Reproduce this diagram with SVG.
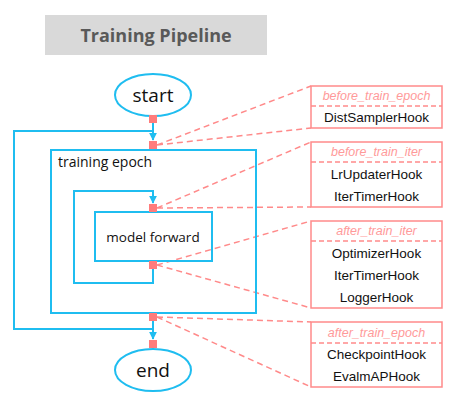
<svg xmlns="http://www.w3.org/2000/svg" width="465" height="415" viewBox="0 0 465 415">
<defs>
<style>
.blue{fill:none;stroke:#1fbdf0;stroke-width:2}
.sq{fill:#ff7c7c}
.hookbox{fill:#fff;stroke:#ff8a8a;stroke-width:1.5}
.sep{stroke:#ff8a8a;stroke-width:1.5;stroke-dasharray:5,3}
.dash{stroke:#ff8a8a;stroke-width:1.5;stroke-dasharray:6,4;fill:none}
.hdr{font-family:"Liberation Sans",Arial,sans-serif;font-style:italic;font-size:12.5px;fill:#ff9a9a;text-anchor:middle}
.hook{font-family:"Liberation Sans",Arial,sans-serif;font-size:13.5px;fill:#111;text-anchor:middle}
.lbl{font-family:"Open Sans","Liberation Sans",sans-serif;fill:#111}
</style>
<marker id="arr" viewBox="0 0 10 10" refX="9" refY="5" markerWidth="4" markerHeight="4" orient="auto"><path d="M0,0 L10,5 L0,10 z" fill="#1fbdf0"/></marker>
</defs>
<g id="title">
<rect x="45" y="15" width="222" height="40" fill="#d9d9d9"/>
<text x="156" y="42" font-family="Open Sans,Liberation Sans,sans-serif" font-weight="bold" font-size="18" fill="#595959" text-anchor="middle">Training Pipeline</text>
</g>
<g id="connectors">
<polyline class="blue" points="153,321 153,329 14,329 14,131 153,131 153,140" marker-end="url(#arr)"/>
<line class="blue" x1="153" y1="321" x2="153" y2="339" marker-end="url(#arr)"/>
<polyline class="blue" points="153,268 153,283 74,283 74,191 153,191 153,203" marker-end="url(#arr)"/>
<line class="blue" x1="153" y1="116" x2="153" y2="131"/>
<path class="dash" d="M157,145 L311,86 M157,145 L311,128"/>
<path class="dash" d="M157,208 L311,142 M157,208 L311,207"/>
<path class="dash" d="M157,265 L311,221 M157,265 L311,308"/>
<path class="dash" d="M157,317 L311,322 M157,317 L311,387"/>
</g>
<g id="start">
<ellipse class="blue" cx="153" cy="95" rx="38" ry="21" fill="#fff"/>
<text class="lbl" x="153" y="102" font-size="19" text-anchor="middle">start</text>
</g>
<g id="training-epoch">
<rect class="blue" x="51" y="150" width="205" height="163"/>
<text class="lbl" x="58" y="167" font-size="14">training epoch</text>
</g>
<g id="model-forward">
<rect class="blue" x="95" y="212" width="117" height="49" fill="#fff"/>
<text class="lbl" x="153" y="242" font-size="13.5" text-anchor="middle">model forward</text>
</g>
<g id="end">
<ellipse class="blue" cx="153" cy="370" rx="38" ry="21" fill="#fff"/>
<text class="lbl" x="153" y="377" font-size="19" text-anchor="middle">end</text>
</g>
<g id="hook-points">
<rect class="sq" x="149" y="115" width="8" height="8"/>
<rect class="sq" x="149" y="141" width="8" height="8"/>
<rect class="sq" x="149" y="204" width="8" height="8"/>
<rect class="sq" x="149" y="261" width="8" height="8"/>
<rect class="sq" x="149" y="313" width="8" height="8"/>
<rect class="sq" x="149" y="340" width="8" height="8"/>
</g>
<g id="before-train-epoch">
<rect class="hookbox" x="311" y="86" width="131" height="42"/>
<line class="sep" x1="311" y1="106" x2="442" y2="106"/>
<text class="hdr" x="376.5" y="100">before_train_epoch</text>
<text class="hook" x="376.5" y="122">DistSamplerHook</text>
</g>
<g id="before-train-iter">
<rect class="hookbox" x="311" y="142" width="131" height="65"/>
<line class="sep" x1="311" y1="162" x2="442" y2="162"/>
<text class="hdr" x="376.5" y="156">before_train_iter</text>
<text class="hook" x="376.5" y="179">LrUpdaterHook</text>
<text class="hook" x="376.5" y="201">IterTimerHook</text>
</g>
<g id="after-train-iter">
<rect class="hookbox" x="311" y="221" width="131" height="87"/>
<line class="sep" x1="311" y1="241" x2="442" y2="241"/>
<text class="hdr" x="376.5" y="235">after_train_iter</text>
<text class="hook" x="376.5" y="258">OptimizerHook</text>
<text class="hook" x="376.5" y="280">IterTimerHook</text>
<text class="hook" x="376.5" y="302">LoggerHook</text>
</g>
<g id="after-train-epoch">
<rect class="hookbox" x="311" y="322" width="131" height="65"/>
<line class="sep" x1="311" y1="343" x2="442" y2="343"/>
<text class="hdr" x="376.5" y="337">after_train_epoch</text>
<text class="hook" x="376.5" y="359">CheckpointHook</text>
<text class="hook" x="376.5" y="381">EvalmAPHook</text>
</g>
</svg>
